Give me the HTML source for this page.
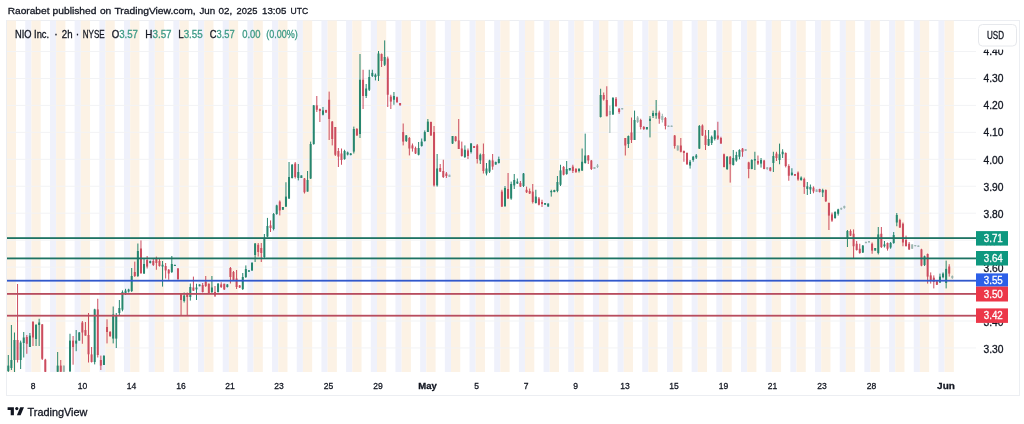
<!DOCTYPE html>
<html><head><meta charset="utf-8"><title>NIO Inc. 2h chart</title><style>
html,body{margin:0;padding:0;background:#fff;width:1024px;height:424px;overflow:hidden}
svg{display:block}
text{font-family:"Liberation Sans",Arial,sans-serif;stroke:#131722;stroke-width:0.3px}
.pl{stroke:#fff!important}
.hdr{font-size:9.9px;fill:#131722}
.lg{font-size:10.4px;fill:#131722}
.lv{fill:#3d9a86;stroke:#3d9a86}
.ax{font-size:10px;fill:#131722}
.pl{font-size:10.8px;fill:#fff}
.tl{font-size:9.9px;fill:#131722}
.b{font-weight:bold}
.tv{font-size:10.8px;fill:#131722}
</style></head><body>
<svg width="1024" height="424" viewBox="0 0 1024 424">
<rect width="1024" height="424" fill="#fff"/>
<text x="7.7" y="13.9" class="hdr" textLength="41.8" lengthAdjust="spacingAndGlyphs">Raorabet</text><text x="52.6" y="13.9" class="hdr" textLength="43.8" lengthAdjust="spacingAndGlyphs">published</text><text x="99.9" y="13.9" class="hdr" textLength="11.4" lengthAdjust="spacingAndGlyphs">on</text><text x="114.4" y="13.9" class="hdr" textLength="81.2" lengthAdjust="spacingAndGlyphs">TradingView.com,</text><text x="199.4" y="13.9" class="hdr" textLength="15.7" lengthAdjust="spacingAndGlyphs">Jun</text><text x="218.6" y="13.9" class="hdr" textLength="13.7" lengthAdjust="spacingAndGlyphs">02,</text><text x="236.6" y="13.9" class="hdr" textLength="20.8" lengthAdjust="spacingAndGlyphs">2025</text><text x="262.0" y="13.9" class="hdr" textLength="24.3" lengthAdjust="spacingAndGlyphs">13:05</text><text x="290.5" y="13.9" class="hdr" textLength="17.6" lengthAdjust="spacingAndGlyphs">UTC</text>
<rect x="6.5" y="20.5" width="1013.0" height="375.0" fill="#fff" stroke="#eceef2" stroke-width="1"/>
<g>
<rect x="7.00" y="20.5" width="9.01" height="351.5" fill="#fcf2e5"/>
<rect x="25.27" y="20.5" width="6.17" height="351.5" fill="#eff1fb"/>
<rect x="31.44" y="20.5" width="9.25" height="351.5" fill="#fcf2e5"/>
<rect x="49.95" y="20.5" width="6.17" height="351.5" fill="#eff1fb"/>
<rect x="56.12" y="20.5" width="9.26" height="351.5" fill="#fcf2e5"/>
<rect x="74.63" y="20.5" width="6.17" height="351.5" fill="#eff1fb"/>
<rect x="80.80" y="20.5" width="9.26" height="351.5" fill="#fcf2e5"/>
<rect x="99.31" y="20.5" width="6.17" height="351.5" fill="#eff1fb"/>
<rect x="105.48" y="20.5" width="9.25" height="351.5" fill="#fcf2e5"/>
<rect x="123.99" y="20.5" width="6.17" height="351.5" fill="#eff1fb"/>
<rect x="130.16" y="20.5" width="9.25" height="351.5" fill="#fcf2e5"/>
<rect x="148.67" y="20.5" width="6.17" height="351.5" fill="#eff1fb"/>
<rect x="154.84" y="20.5" width="9.26" height="351.5" fill="#fcf2e5"/>
<rect x="173.35" y="20.5" width="6.17" height="351.5" fill="#eff1fb"/>
<rect x="179.52" y="20.5" width="9.25" height="351.5" fill="#fcf2e5"/>
<rect x="198.03" y="20.5" width="6.17" height="351.5" fill="#eff1fb"/>
<rect x="204.20" y="20.5" width="9.25" height="351.5" fill="#fcf2e5"/>
<rect x="222.71" y="20.5" width="6.17" height="351.5" fill="#eff1fb"/>
<rect x="228.88" y="20.5" width="9.25" height="351.5" fill="#fcf2e5"/>
<rect x="247.39" y="20.5" width="6.17" height="351.5" fill="#eff1fb"/>
<rect x="253.56" y="20.5" width="9.25" height="351.5" fill="#fcf2e5"/>
<rect x="272.07" y="20.5" width="6.17" height="351.5" fill="#eff1fb"/>
<rect x="278.24" y="20.5" width="9.25" height="351.5" fill="#fcf2e5"/>
<rect x="296.75" y="20.5" width="6.17" height="351.5" fill="#eff1fb"/>
<rect x="302.92" y="20.5" width="9.26" height="351.5" fill="#fcf2e5"/>
<rect x="321.43" y="20.5" width="6.17" height="351.5" fill="#eff1fb"/>
<rect x="327.60" y="20.5" width="9.25" height="351.5" fill="#fcf2e5"/>
<rect x="346.11" y="20.5" width="6.17" height="351.5" fill="#eff1fb"/>
<rect x="352.28" y="20.5" width="9.25" height="351.5" fill="#fcf2e5"/>
<rect x="370.79" y="20.5" width="6.17" height="351.5" fill="#eff1fb"/>
<rect x="376.96" y="20.5" width="9.25" height="351.5" fill="#fcf2e5"/>
<rect x="395.47" y="20.5" width="6.17" height="351.5" fill="#eff1fb"/>
<rect x="401.64" y="20.5" width="9.25" height="351.5" fill="#fcf2e5"/>
<rect x="420.15" y="20.5" width="6.17" height="351.5" fill="#eff1fb"/>
<rect x="426.32" y="20.5" width="9.25" height="351.5" fill="#fcf2e5"/>
<rect x="444.83" y="20.5" width="6.17" height="351.5" fill="#eff1fb"/>
<rect x="451.00" y="20.5" width="9.25" height="351.5" fill="#fcf2e5"/>
<rect x="469.51" y="20.5" width="6.17" height="351.5" fill="#eff1fb"/>
<rect x="475.68" y="20.5" width="9.25" height="351.5" fill="#fcf2e5"/>
<rect x="494.19" y="20.5" width="6.17" height="351.5" fill="#eff1fb"/>
<rect x="500.36" y="20.5" width="9.25" height="351.5" fill="#fcf2e5"/>
<rect x="518.87" y="20.5" width="6.17" height="351.5" fill="#eff1fb"/>
<rect x="525.04" y="20.5" width="9.25" height="351.5" fill="#fcf2e5"/>
<rect x="543.55" y="20.5" width="6.17" height="351.5" fill="#eff1fb"/>
<rect x="549.72" y="20.5" width="9.25" height="351.5" fill="#fcf2e5"/>
<rect x="568.23" y="20.5" width="6.17" height="351.5" fill="#eff1fb"/>
<rect x="574.40" y="20.5" width="9.25" height="351.5" fill="#fcf2e5"/>
<rect x="592.91" y="20.5" width="6.17" height="351.5" fill="#eff1fb"/>
<rect x="599.08" y="20.5" width="9.26" height="351.5" fill="#fcf2e5"/>
<rect x="617.59" y="20.5" width="6.17" height="351.5" fill="#eff1fb"/>
<rect x="623.76" y="20.5" width="9.25" height="351.5" fill="#fcf2e5"/>
<rect x="642.27" y="20.5" width="6.17" height="351.5" fill="#eff1fb"/>
<rect x="648.44" y="20.5" width="9.25" height="351.5" fill="#fcf2e5"/>
<rect x="666.95" y="20.5" width="6.17" height="351.5" fill="#eff1fb"/>
<rect x="673.12" y="20.5" width="9.25" height="351.5" fill="#fcf2e5"/>
<rect x="691.63" y="20.5" width="6.17" height="351.5" fill="#eff1fb"/>
<rect x="697.80" y="20.5" width="9.25" height="351.5" fill="#fcf2e5"/>
<rect x="716.31" y="20.5" width="6.17" height="351.5" fill="#eff1fb"/>
<rect x="722.48" y="20.5" width="9.25" height="351.5" fill="#fcf2e5"/>
<rect x="740.99" y="20.5" width="6.17" height="351.5" fill="#eff1fb"/>
<rect x="747.16" y="20.5" width="9.25" height="351.5" fill="#fcf2e5"/>
<rect x="765.67" y="20.5" width="6.17" height="351.5" fill="#eff1fb"/>
<rect x="771.84" y="20.5" width="9.25" height="351.5" fill="#fcf2e5"/>
<rect x="790.35" y="20.5" width="6.17" height="351.5" fill="#eff1fb"/>
<rect x="796.52" y="20.5" width="9.25" height="351.5" fill="#fcf2e5"/>
<rect x="815.03" y="20.5" width="6.17" height="351.5" fill="#eff1fb"/>
<rect x="821.20" y="20.5" width="9.25" height="351.5" fill="#fcf2e5"/>
<rect x="839.71" y="20.5" width="6.17" height="351.5" fill="#eff1fb"/>
<rect x="845.88" y="20.5" width="9.25" height="351.5" fill="#fcf2e5"/>
<rect x="864.39" y="20.5" width="6.17" height="351.5" fill="#eff1fb"/>
<rect x="870.56" y="20.5" width="9.25" height="351.5" fill="#fcf2e5"/>
<rect x="889.07" y="20.5" width="6.17" height="351.5" fill="#eff1fb"/>
<rect x="895.24" y="20.5" width="9.25" height="351.5" fill="#fcf2e5"/>
<rect x="913.75" y="20.5" width="6.17" height="351.5" fill="#eff1fb"/>
<rect x="919.92" y="20.5" width="9.25" height="351.5" fill="#fcf2e5"/>
<rect x="938.43" y="20.5" width="6.17" height="351.5" fill="#eff1fb"/>
<rect x="944.60" y="20.5" width="9.25" height="351.5" fill="#fcf2e5"/>
<rect x="7" y="51.00" width="969" height="1" fill="#f2f3f5"/>
<rect x="7" y="77.95" width="969" height="1" fill="#f2f3f5"/>
<rect x="7" y="104.90" width="969" height="1" fill="#f2f3f5"/>
<rect x="7" y="131.85" width="969" height="1" fill="#f2f3f5"/>
<rect x="7" y="158.80" width="969" height="1" fill="#f2f3f5"/>
<rect x="7" y="185.75" width="969" height="1" fill="#f2f3f5"/>
<rect x="7" y="212.70" width="969" height="1" fill="#f2f3f5"/>
<rect x="7" y="239.65" width="969" height="1" fill="#f2f3f5"/>
<rect x="7" y="266.60" width="969" height="1" fill="#f2f3f5"/>
<rect x="7" y="293.55" width="969" height="1" fill="#f2f3f5"/>
<rect x="7" y="320.50" width="969" height="1" fill="#f2f3f5"/>
<rect x="7" y="347.45" width="969" height="1" fill="#f2f3f5"/>
<rect x="7.80" y="355.00" width="1.0" height="17.00" fill="#26866f"/>
<rect x="7.30" y="365.60" width="2.0" height="5.40" fill="#26866f"/>
<rect x="10.89" y="325.00" width="1.0" height="45.00" fill="#26866f"/>
<rect x="10.39" y="360.00" width="2.0" height="8.00" fill="#26866f"/>
<rect x="13.97" y="332.50" width="1.0" height="39.50" fill="#26866f"/>
<rect x="13.47" y="340.00" width="2.0" height="20.00" fill="#26866f"/>
<rect x="17.05" y="284.00" width="1.0" height="78.50" fill="#cc4c5e"/>
<rect x="16.55" y="340.00" width="2.0" height="20.00" fill="#cc4c5e"/>
<rect x="20.14" y="340.60" width="1.0" height="28.40" fill="#26866f"/>
<rect x="19.64" y="342.50" width="2.0" height="17.50" fill="#26866f"/>
<rect x="23.23" y="332.00" width="1.0" height="25.50" fill="#26866f"/>
<rect x="22.73" y="337.50" width="2.0" height="5.50" fill="#26866f"/>
<rect x="26.31" y="335.00" width="1.0" height="18.80" fill="#cc4c5e"/>
<rect x="25.81" y="337.00" width="2.0" height="6.80" fill="#cc4c5e"/>
<rect x="29.39" y="333.00" width="1.0" height="14.00" fill="#26866f"/>
<rect x="28.89" y="335.60" width="2.0" height="11.40" fill="#26866f"/>
<rect x="32.48" y="321.00" width="1.0" height="25.00" fill="#cc4c5e"/>
<rect x="31.98" y="322.00" width="2.0" height="15.50" fill="#cc4c5e"/>
<rect x="35.56" y="324.00" width="1.0" height="22.00" fill="#26866f"/>
<rect x="35.06" y="325.00" width="2.0" height="14.00" fill="#26866f"/>
<rect x="38.65" y="318.75" width="1.0" height="27.25" fill="#26866f"/>
<rect x="38.15" y="322.50" width="2.0" height="2.50" fill="#26866f"/>
<rect x="41.73" y="324.00" width="1.0" height="36.00" fill="#cc4c5e"/>
<rect x="41.23" y="324.40" width="2.0" height="34.40" fill="#cc4c5e"/>
<rect x="44.82" y="358.80" width="1.0" height="13.20" fill="#cc4c5e"/>
<rect x="44.32" y="359.70" width="2.0" height="12.10" fill="#cc4c5e"/>
<rect x="57.16" y="352.00" width="1.0" height="19.80" fill="#26866f"/>
<rect x="56.66" y="365.60" width="2.0" height="6.20" fill="#26866f"/>
<rect x="60.25" y="360.00" width="1.0" height="11.80" fill="#cc4c5e"/>
<rect x="59.75" y="365.60" width="2.0" height="6.20" fill="#cc4c5e"/>
<rect x="63.33" y="365.60" width="1.0" height="6.20" fill="#9ab5b0"/>
<rect x="62.83" y="365.60" width="2.0" height="6.20" fill="#9ab5b0"/>
<rect x="69.50" y="333.75" width="1.0" height="38.05" fill="#26866f"/>
<rect x="69.00" y="340.60" width="2.0" height="30.80" fill="#26866f"/>
<rect x="72.58" y="336.00" width="1.0" height="28.70" fill="#cc4c5e"/>
<rect x="72.08" y="340.60" width="2.0" height="6.40" fill="#cc4c5e"/>
<rect x="75.67" y="330.00" width="1.0" height="21.20" fill="#26866f"/>
<rect x="75.17" y="340.60" width="2.0" height="3.00" fill="#26866f"/>
<rect x="78.75" y="332.00" width="1.0" height="8.60" fill="#26866f"/>
<rect x="78.25" y="332.50" width="2.0" height="8.10" fill="#26866f"/>
<rect x="81.84" y="321.00" width="1.0" height="22.75" fill="#cc4c5e"/>
<rect x="81.34" y="322.50" width="2.0" height="10.00" fill="#cc4c5e"/>
<rect x="84.92" y="322.00" width="1.0" height="13.60" fill="#cc4c5e"/>
<rect x="84.42" y="330.00" width="2.0" height="5.60" fill="#cc4c5e"/>
<rect x="88.01" y="313.00" width="1.0" height="49.50" fill="#cc4c5e"/>
<rect x="87.51" y="335.00" width="2.0" height="19.30" fill="#cc4c5e"/>
<rect x="91.09" y="347.00" width="1.0" height="15.50" fill="#cc4c5e"/>
<rect x="90.59" y="354.40" width="2.0" height="7.60" fill="#cc4c5e"/>
<rect x="94.18" y="308.75" width="1.0" height="55.65" fill="#26866f"/>
<rect x="93.68" y="309.40" width="2.0" height="52.60" fill="#26866f"/>
<rect x="97.27" y="298.75" width="1.0" height="58.75" fill="#cc4c5e"/>
<rect x="96.77" y="309.40" width="2.0" height="45.60" fill="#cc4c5e"/>
<rect x="100.35" y="355.60" width="1.0" height="14.40" fill="#cc4c5e"/>
<rect x="99.85" y="360.00" width="2.0" height="5.60" fill="#cc4c5e"/>
<rect x="103.44" y="355.00" width="1.0" height="10.00" fill="#26866f"/>
<rect x="102.94" y="356.00" width="2.0" height="9.00" fill="#26866f"/>
<rect x="106.52" y="319.30" width="1.0" height="24.10" fill="#cc4c5e"/>
<rect x="106.02" y="327.00" width="2.0" height="5.00" fill="#cc4c5e"/>
<rect x="109.60" y="331.00" width="1.0" height="6.00" fill="#cc4c5e"/>
<rect x="109.10" y="332.00" width="2.0" height="4.00" fill="#cc4c5e"/>
<rect x="112.69" y="306.50" width="1.0" height="36.90" fill="#26866f"/>
<rect x="112.19" y="314.50" width="2.0" height="24.10" fill="#26866f"/>
<rect x="115.77" y="313.00" width="1.0" height="35.00" fill="#26866f"/>
<rect x="115.27" y="316.00" width="2.0" height="22.60" fill="#26866f"/>
<rect x="118.86" y="300.00" width="1.0" height="16.00" fill="#26866f"/>
<rect x="118.36" y="308.00" width="2.0" height="5.00" fill="#26866f"/>
<rect x="121.94" y="290.40" width="1.0" height="20.90" fill="#26866f"/>
<rect x="121.44" y="292.00" width="2.0" height="17.70" fill="#26866f"/>
<rect x="125.03" y="288.80" width="1.0" height="6.20" fill="#26866f"/>
<rect x="124.53" y="290.60" width="2.0" height="3.40" fill="#26866f"/>
<rect x="128.12" y="288.75" width="1.0" height="3.75" fill="#26866f"/>
<rect x="127.62" y="289.50" width="2.0" height="2.00" fill="#26866f"/>
<rect x="131.20" y="268.00" width="1.0" height="24.00" fill="#26866f"/>
<rect x="130.70" y="276.00" width="2.0" height="15.00" fill="#26866f"/>
<rect x="134.28" y="261.60" width="1.0" height="15.40" fill="#cc4c5e"/>
<rect x="133.78" y="272.00" width="2.0" height="4.00" fill="#cc4c5e"/>
<rect x="137.37" y="243.50" width="1.0" height="33.50" fill="#26866f"/>
<rect x="136.87" y="251.00" width="2.0" height="25.00" fill="#26866f"/>
<rect x="140.46" y="240.40" width="1.0" height="33.60" fill="#cc4c5e"/>
<rect x="139.96" y="248.50" width="2.0" height="24.50" fill="#cc4c5e"/>
<rect x="143.54" y="258.00" width="1.0" height="16.00" fill="#26866f"/>
<rect x="143.04" y="264.00" width="2.0" height="9.50" fill="#26866f"/>
<rect x="146.62" y="256.00" width="1.0" height="12.50" fill="#cc4c5e"/>
<rect x="146.12" y="260.00" width="2.0" height="6.60" fill="#cc4c5e"/>
<rect x="149.71" y="260.50" width="1.0" height="3.00" fill="#26866f"/>
<rect x="149.21" y="261.00" width="2.0" height="2.00" fill="#26866f"/>
<rect x="152.80" y="259.00" width="1.0" height="7.00" fill="#cc4c5e"/>
<rect x="152.30" y="261.00" width="2.0" height="4.00" fill="#cc4c5e"/>
<rect x="155.88" y="256.60" width="1.0" height="13.15" fill="#cc4c5e"/>
<rect x="155.38" y="258.00" width="2.0" height="5.00" fill="#cc4c5e"/>
<rect x="158.97" y="258.00" width="1.0" height="8.60" fill="#cc4c5e"/>
<rect x="158.47" y="261.00" width="2.0" height="5.00" fill="#cc4c5e"/>
<rect x="162.05" y="261.00" width="1.0" height="25.60" fill="#26866f"/>
<rect x="161.55" y="264.75" width="2.0" height="1.85" fill="#26866f"/>
<rect x="165.14" y="263.00" width="1.0" height="15.50" fill="#cc4c5e"/>
<rect x="164.64" y="266.00" width="2.0" height="4.40" fill="#cc4c5e"/>
<rect x="168.22" y="269.00" width="1.0" height="10.75" fill="#cc4c5e"/>
<rect x="167.72" y="269.75" width="2.0" height="3.75" fill="#cc4c5e"/>
<rect x="171.31" y="256.00" width="1.0" height="17.00" fill="#26866f"/>
<rect x="170.81" y="264.00" width="2.0" height="8.00" fill="#26866f"/>
<rect x="174.39" y="264.50" width="1.0" height="1.50" fill="#26866f"/>
<rect x="173.89" y="265.00" width="2.0" height="1.00" fill="#26866f"/>
<rect x="177.48" y="268.00" width="1.0" height="12.00" fill="#cc4c5e"/>
<rect x="176.98" y="268.50" width="2.0" height="10.50" fill="#cc4c5e"/>
<rect x="180.56" y="293.75" width="1.0" height="22.25" fill="#cc4c5e"/>
<rect x="180.06" y="293.75" width="2.0" height="6.25" fill="#cc4c5e"/>
<rect x="183.65" y="292.50" width="1.0" height="10.00" fill="#26866f"/>
<rect x="183.15" y="295.60" width="2.0" height="5.40" fill="#26866f"/>
<rect x="186.73" y="292.50" width="1.0" height="23.50" fill="#cc4c5e"/>
<rect x="186.23" y="293.00" width="2.0" height="4.00" fill="#cc4c5e"/>
<rect x="189.81" y="283.50" width="1.0" height="17.10" fill="#26866f"/>
<rect x="189.31" y="287.00" width="2.0" height="10.00" fill="#26866f"/>
<rect x="192.90" y="276.60" width="1.0" height="14.40" fill="#cc4c5e"/>
<rect x="192.40" y="287.50" width="2.0" height="3.10" fill="#cc4c5e"/>
<rect x="195.99" y="283.75" width="1.0" height="16.25" fill="#26866f"/>
<rect x="195.49" y="287.50" width="2.0" height="1.90" fill="#26866f"/>
<rect x="199.07" y="284.40" width="1.0" height="1.85" fill="#26866f"/>
<rect x="198.57" y="284.40" width="2.0" height="1.85" fill="#26866f"/>
<rect x="202.16" y="283.00" width="1.0" height="9.50" fill="#cc4c5e"/>
<rect x="201.66" y="285.00" width="2.0" height="7.00" fill="#cc4c5e"/>
<rect x="205.24" y="276.00" width="1.0" height="11.00" fill="#cc4c5e"/>
<rect x="204.74" y="281.60" width="2.0" height="4.40" fill="#cc4c5e"/>
<rect x="208.33" y="283.50" width="1.0" height="10.25" fill="#cc4c5e"/>
<rect x="207.83" y="283.75" width="2.0" height="9.25" fill="#cc4c5e"/>
<rect x="211.41" y="276.00" width="1.0" height="17.00" fill="#26866f"/>
<rect x="210.91" y="287.50" width="2.0" height="4.50" fill="#26866f"/>
<rect x="214.50" y="286.00" width="1.0" height="11.00" fill="#cc4c5e"/>
<rect x="214.00" y="292.00" width="2.0" height="3.60" fill="#cc4c5e"/>
<rect x="217.58" y="283.00" width="1.0" height="9.50" fill="#26866f"/>
<rect x="217.08" y="283.75" width="2.0" height="8.25" fill="#26866f"/>
<rect x="220.67" y="282.25" width="1.0" height="5.75" fill="#cc4c5e"/>
<rect x="220.17" y="284.40" width="2.0" height="2.60" fill="#cc4c5e"/>
<rect x="223.75" y="283.75" width="1.0" height="6.25" fill="#cc4c5e"/>
<rect x="223.25" y="283.75" width="2.0" height="5.65" fill="#cc4c5e"/>
<rect x="226.84" y="284.00" width="1.0" height="3.50" fill="#26866f"/>
<rect x="226.34" y="284.50" width="2.0" height="2.50" fill="#26866f"/>
<rect x="229.92" y="267.00" width="1.0" height="16.50" fill="#cc4c5e"/>
<rect x="229.42" y="268.00" width="2.0" height="9.00" fill="#cc4c5e"/>
<rect x="233.00" y="271.00" width="1.0" height="10.00" fill="#cc4c5e"/>
<rect x="232.50" y="272.00" width="2.0" height="8.00" fill="#cc4c5e"/>
<rect x="236.09" y="270.00" width="1.0" height="19.00" fill="#cc4c5e"/>
<rect x="235.59" y="278.50" width="2.0" height="8.50" fill="#cc4c5e"/>
<rect x="239.18" y="285.00" width="1.0" height="3.00" fill="#cc4c5e"/>
<rect x="238.68" y="285.50" width="2.0" height="2.00" fill="#cc4c5e"/>
<rect x="242.26" y="273.00" width="1.0" height="17.00" fill="#26866f"/>
<rect x="241.76" y="277.00" width="2.0" height="12.00" fill="#26866f"/>
<rect x="245.34" y="265.40" width="1.0" height="12.60" fill="#26866f"/>
<rect x="244.84" y="269.00" width="2.0" height="8.00" fill="#26866f"/>
<rect x="248.43" y="270.00" width="1.0" height="2.00" fill="#26866f"/>
<rect x="247.93" y="270.40" width="2.0" height="1.20" fill="#26866f"/>
<rect x="251.52" y="262.00" width="1.0" height="9.00" fill="#26866f"/>
<rect x="251.02" y="263.00" width="2.0" height="7.40" fill="#26866f"/>
<rect x="254.60" y="243.00" width="1.0" height="19.00" fill="#26866f"/>
<rect x="254.10" y="243.50" width="2.0" height="11.50" fill="#26866f"/>
<rect x="257.69" y="243.00" width="1.0" height="13.60" fill="#cc4c5e"/>
<rect x="257.19" y="244.75" width="2.0" height="7.25" fill="#cc4c5e"/>
<rect x="260.77" y="243.00" width="1.0" height="19.00" fill="#cc4c5e"/>
<rect x="260.27" y="248.00" width="2.0" height="5.00" fill="#cc4c5e"/>
<rect x="263.86" y="234.00" width="1.0" height="24.50" fill="#26866f"/>
<rect x="263.36" y="238.50" width="2.0" height="18.50" fill="#26866f"/>
<rect x="266.94" y="217.90" width="1.0" height="19.35" fill="#26866f"/>
<rect x="266.44" y="226.00" width="2.0" height="10.60" fill="#26866f"/>
<rect x="270.03" y="220.40" width="1.0" height="11.60" fill="#cc4c5e"/>
<rect x="269.53" y="225.40" width="2.0" height="2.60" fill="#cc4c5e"/>
<rect x="273.11" y="213.00" width="1.0" height="17.40" fill="#26866f"/>
<rect x="272.61" y="214.00" width="2.0" height="15.00" fill="#26866f"/>
<rect x="276.19" y="204.75" width="1.0" height="10.00" fill="#26866f"/>
<rect x="275.69" y="205.40" width="2.0" height="8.60" fill="#26866f"/>
<rect x="279.28" y="200.40" width="1.0" height="15.00" fill="#cc4c5e"/>
<rect x="278.78" y="201.60" width="2.0" height="8.80" fill="#cc4c5e"/>
<rect x="282.37" y="207.00" width="1.0" height="2.75" fill="#26866f"/>
<rect x="281.87" y="207.00" width="2.0" height="2.75" fill="#26866f"/>
<rect x="285.45" y="182.25" width="1.0" height="24.75" fill="#26866f"/>
<rect x="284.95" y="196.60" width="2.0" height="10.00" fill="#26866f"/>
<rect x="288.54" y="162.00" width="1.0" height="37.00" fill="#26866f"/>
<rect x="288.04" y="177.00" width="2.0" height="21.50" fill="#26866f"/>
<rect x="291.62" y="164.00" width="1.0" height="14.50" fill="#26866f"/>
<rect x="291.12" y="164.75" width="2.0" height="13.25" fill="#26866f"/>
<rect x="294.70" y="162.00" width="1.0" height="16.50" fill="#cc4c5e"/>
<rect x="294.20" y="163.50" width="2.0" height="13.50" fill="#cc4c5e"/>
<rect x="297.79" y="164.00" width="1.0" height="16.40" fill="#26866f"/>
<rect x="297.29" y="172.00" width="2.0" height="6.00" fill="#26866f"/>
<rect x="300.88" y="175.40" width="1.0" height="2.60" fill="#26866f"/>
<rect x="300.38" y="175.40" width="2.0" height="2.60" fill="#26866f"/>
<rect x="303.96" y="178.00" width="1.0" height="15.50" fill="#cc4c5e"/>
<rect x="303.46" y="178.50" width="2.0" height="13.75" fill="#cc4c5e"/>
<rect x="307.05" y="171.00" width="1.0" height="20.60" fill="#26866f"/>
<rect x="306.55" y="180.00" width="2.0" height="11.60" fill="#26866f"/>
<rect x="310.13" y="141.60" width="1.0" height="37.40" fill="#26866f"/>
<rect x="309.63" y="144.00" width="2.0" height="34.50" fill="#26866f"/>
<rect x="313.22" y="105.00" width="1.0" height="39.75" fill="#26866f"/>
<rect x="312.72" y="105.40" width="2.0" height="38.60" fill="#26866f"/>
<rect x="316.30" y="96.00" width="1.0" height="16.00" fill="#cc4c5e"/>
<rect x="315.80" y="105.40" width="2.0" height="4.35" fill="#cc4c5e"/>
<rect x="319.38" y="108.50" width="1.0" height="13.50" fill="#cc4c5e"/>
<rect x="318.88" y="109.00" width="2.0" height="2.00" fill="#cc4c5e"/>
<rect x="322.47" y="107.00" width="1.0" height="8.40" fill="#26866f"/>
<rect x="321.97" y="110.40" width="2.0" height="4.35" fill="#26866f"/>
<rect x="325.56" y="109.75" width="1.0" height="3.25" fill="#cc4c5e"/>
<rect x="325.06" y="110.00" width="2.0" height="2.50" fill="#cc4c5e"/>
<rect x="328.64" y="91.60" width="1.0" height="48.40" fill="#cc4c5e"/>
<rect x="328.14" y="99.75" width="2.0" height="19.25" fill="#cc4c5e"/>
<rect x="331.73" y="121.00" width="1.0" height="24.40" fill="#cc4c5e"/>
<rect x="331.23" y="121.60" width="2.0" height="17.40" fill="#cc4c5e"/>
<rect x="334.81" y="127.00" width="1.0" height="29.00" fill="#cc4c5e"/>
<rect x="334.31" y="127.00" width="2.0" height="27.75" fill="#cc4c5e"/>
<rect x="337.89" y="148.00" width="1.0" height="19.00" fill="#cc4c5e"/>
<rect x="337.39" y="151.00" width="2.0" height="5.60" fill="#cc4c5e"/>
<rect x="340.98" y="148.50" width="1.0" height="16.25" fill="#cc4c5e"/>
<rect x="340.48" y="153.50" width="2.0" height="6.50" fill="#cc4c5e"/>
<rect x="344.06" y="149.75" width="1.0" height="10.00" fill="#26866f"/>
<rect x="343.56" y="151.00" width="2.0" height="8.00" fill="#26866f"/>
<rect x="347.15" y="151.60" width="1.0" height="3.80" fill="#26866f"/>
<rect x="346.65" y="152.50" width="2.0" height="2.00" fill="#26866f"/>
<rect x="350.24" y="153.00" width="1.0" height="2.40" fill="#26866f"/>
<rect x="349.74" y="153.50" width="2.0" height="1.50" fill="#26866f"/>
<rect x="353.32" y="126.60" width="1.0" height="26.90" fill="#26866f"/>
<rect x="352.82" y="129.00" width="2.0" height="22.60" fill="#26866f"/>
<rect x="356.41" y="128.00" width="1.0" height="8.00" fill="#cc4c5e"/>
<rect x="355.91" y="129.00" width="2.0" height="6.40" fill="#cc4c5e"/>
<rect x="359.49" y="54.00" width="1.0" height="84.00" fill="#26866f"/>
<rect x="358.99" y="79.75" width="2.0" height="54.25" fill="#26866f"/>
<rect x="362.57" y="69.75" width="1.0" height="39.25" fill="#cc4c5e"/>
<rect x="362.07" y="79.75" width="2.0" height="16.25" fill="#cc4c5e"/>
<rect x="365.66" y="84.00" width="1.0" height="14.00" fill="#26866f"/>
<rect x="365.16" y="88.50" width="2.0" height="7.50" fill="#26866f"/>
<rect x="368.75" y="69.75" width="1.0" height="21.25" fill="#26866f"/>
<rect x="368.25" y="77.00" width="2.0" height="12.75" fill="#26866f"/>
<rect x="371.83" y="69.75" width="1.0" height="7.25" fill="#26866f"/>
<rect x="371.33" y="72.90" width="2.0" height="3.10" fill="#26866f"/>
<rect x="374.92" y="73.50" width="1.0" height="6.90" fill="#26866f"/>
<rect x="374.42" y="74.75" width="2.0" height="2.25" fill="#26866f"/>
<rect x="378.00" y="51.00" width="1.0" height="30.00" fill="#26866f"/>
<rect x="377.50" y="53.50" width="2.0" height="22.50" fill="#26866f"/>
<rect x="381.08" y="53.50" width="1.0" height="13.50" fill="#cc4c5e"/>
<rect x="380.58" y="54.00" width="2.0" height="7.00" fill="#cc4c5e"/>
<rect x="384.17" y="40.40" width="1.0" height="25.60" fill="#26866f"/>
<rect x="383.67" y="57.00" width="2.0" height="7.75" fill="#26866f"/>
<rect x="387.25" y="56.60" width="1.0" height="50.40" fill="#cc4c5e"/>
<rect x="386.75" y="58.50" width="2.0" height="36.25" fill="#cc4c5e"/>
<rect x="390.34" y="94.75" width="1.0" height="14.25" fill="#cc4c5e"/>
<rect x="389.84" y="96.60" width="2.0" height="5.00" fill="#cc4c5e"/>
<rect x="393.43" y="92.00" width="1.0" height="12.75" fill="#26866f"/>
<rect x="392.93" y="96.00" width="2.0" height="3.75" fill="#26866f"/>
<rect x="396.51" y="96.60" width="1.0" height="6.40" fill="#cc4c5e"/>
<rect x="396.01" y="97.25" width="2.0" height="4.75" fill="#cc4c5e"/>
<rect x="399.60" y="103.00" width="1.0" height="2.40" fill="#cc4c5e"/>
<rect x="399.10" y="103.00" width="2.0" height="2.40" fill="#cc4c5e"/>
<rect x="402.68" y="123.50" width="1.0" height="21.90" fill="#cc4c5e"/>
<rect x="402.18" y="132.00" width="2.0" height="9.60" fill="#cc4c5e"/>
<rect x="405.76" y="135.00" width="1.0" height="7.00" fill="#26866f"/>
<rect x="405.26" y="135.40" width="2.0" height="5.60" fill="#26866f"/>
<rect x="408.85" y="137.00" width="1.0" height="18.40" fill="#cc4c5e"/>
<rect x="408.35" y="138.00" width="2.0" height="10.50" fill="#cc4c5e"/>
<rect x="411.94" y="143.50" width="1.0" height="8.10" fill="#cc4c5e"/>
<rect x="411.44" y="145.40" width="2.0" height="3.10" fill="#cc4c5e"/>
<rect x="415.02" y="146.60" width="1.0" height="7.40" fill="#cc4c5e"/>
<rect x="414.52" y="148.00" width="2.0" height="5.50" fill="#cc4c5e"/>
<rect x="418.11" y="142.00" width="1.0" height="13.40" fill="#26866f"/>
<rect x="417.61" y="148.00" width="2.0" height="6.75" fill="#26866f"/>
<rect x="421.19" y="138.50" width="1.0" height="8.10" fill="#26866f"/>
<rect x="420.69" y="141.60" width="2.0" height="4.40" fill="#26866f"/>
<rect x="424.28" y="130.40" width="1.0" height="11.20" fill="#26866f"/>
<rect x="423.78" y="132.00" width="2.0" height="9.00" fill="#26866f"/>
<rect x="427.36" y="119.00" width="1.0" height="13.00" fill="#26866f"/>
<rect x="426.86" y="121.60" width="2.0" height="10.40" fill="#26866f"/>
<rect x="430.44" y="121.60" width="1.0" height="14.40" fill="#cc4c5e"/>
<rect x="429.94" y="122.00" width="2.0" height="13.40" fill="#cc4c5e"/>
<rect x="433.53" y="126.00" width="1.0" height="60.60" fill="#cc4c5e"/>
<rect x="433.03" y="132.00" width="2.0" height="53.40" fill="#cc4c5e"/>
<rect x="436.62" y="154.00" width="1.0" height="32.60" fill="#26866f"/>
<rect x="436.12" y="168.50" width="2.0" height="16.90" fill="#26866f"/>
<rect x="439.70" y="164.00" width="1.0" height="8.00" fill="#cc4c5e"/>
<rect x="439.20" y="168.00" width="2.0" height="3.60" fill="#cc4c5e"/>
<rect x="442.79" y="159.75" width="1.0" height="18.25" fill="#cc4c5e"/>
<rect x="442.29" y="171.00" width="2.0" height="6.00" fill="#cc4c5e"/>
<rect x="445.87" y="172.00" width="1.0" height="6.00" fill="#cc4c5e"/>
<rect x="445.37" y="173.50" width="2.0" height="2.50" fill="#cc4c5e"/>
<rect x="448.95" y="174.75" width="1.0" height="2.25" fill="#9ab5b0"/>
<rect x="448.45" y="174.75" width="2.0" height="2.25" fill="#9ab5b0"/>
<rect x="452.04" y="136.00" width="1.0" height="8.00" fill="#26866f"/>
<rect x="451.54" y="136.00" width="2.0" height="7.50" fill="#26866f"/>
<rect x="455.12" y="136.00" width="1.0" height="5.60" fill="#cc4c5e"/>
<rect x="454.62" y="136.50" width="2.0" height="4.50" fill="#cc4c5e"/>
<rect x="458.21" y="119.00" width="1.0" height="30.00" fill="#cc4c5e"/>
<rect x="457.71" y="140.40" width="2.0" height="8.60" fill="#cc4c5e"/>
<rect x="461.30" y="141.60" width="1.0" height="15.00" fill="#cc4c5e"/>
<rect x="460.80" y="148.50" width="2.0" height="7.50" fill="#cc4c5e"/>
<rect x="464.38" y="145.40" width="1.0" height="12.60" fill="#26866f"/>
<rect x="463.88" y="149.75" width="2.0" height="7.25" fill="#26866f"/>
<rect x="467.47" y="148.50" width="1.0" height="10.50" fill="#cc4c5e"/>
<rect x="466.97" y="150.40" width="2.0" height="5.60" fill="#cc4c5e"/>
<rect x="470.55" y="143.00" width="1.0" height="10.50" fill="#26866f"/>
<rect x="470.05" y="143.50" width="2.0" height="8.50" fill="#26866f"/>
<rect x="473.63" y="146.00" width="1.0" height="2.00" fill="#cc4c5e"/>
<rect x="473.13" y="146.00" width="2.0" height="2.00" fill="#cc4c5e"/>
<rect x="476.72" y="144.00" width="1.0" height="19.50" fill="#cc4c5e"/>
<rect x="476.22" y="145.40" width="2.0" height="13.60" fill="#cc4c5e"/>
<rect x="479.81" y="153.50" width="1.0" height="10.50" fill="#26866f"/>
<rect x="479.31" y="154.75" width="2.0" height="5.65" fill="#26866f"/>
<rect x="482.89" y="143.50" width="1.0" height="30.00" fill="#cc4c5e"/>
<rect x="482.39" y="154.00" width="2.0" height="17.00" fill="#cc4c5e"/>
<rect x="485.98" y="163.00" width="1.0" height="12.40" fill="#26866f"/>
<rect x="485.48" y="168.50" width="2.0" height="5.00" fill="#26866f"/>
<rect x="489.06" y="159.75" width="1.0" height="13.25" fill="#26866f"/>
<rect x="488.56" y="160.40" width="2.0" height="11.20" fill="#26866f"/>
<rect x="492.14" y="154.00" width="1.0" height="15.75" fill="#cc4c5e"/>
<rect x="491.64" y="160.40" width="2.0" height="6.20" fill="#cc4c5e"/>
<rect x="495.23" y="161.60" width="1.0" height="3.15" fill="#26866f"/>
<rect x="494.73" y="162.00" width="2.0" height="2.50" fill="#26866f"/>
<rect x="498.31" y="156.60" width="1.0" height="6.90" fill="#26866f"/>
<rect x="497.81" y="159.00" width="2.0" height="4.00" fill="#26866f"/>
<rect x="501.40" y="189.75" width="1.0" height="17.25" fill="#cc4c5e"/>
<rect x="500.90" y="191.60" width="2.0" height="15.00" fill="#cc4c5e"/>
<rect x="504.49" y="186.00" width="1.0" height="21.00" fill="#26866f"/>
<rect x="503.99" y="188.00" width="2.0" height="18.00" fill="#26866f"/>
<rect x="507.57" y="173.00" width="1.0" height="26.00" fill="#cc4c5e"/>
<rect x="507.07" y="189.00" width="2.0" height="9.50" fill="#cc4c5e"/>
<rect x="510.66" y="181.60" width="1.0" height="18.15" fill="#26866f"/>
<rect x="510.16" y="184.00" width="2.0" height="14.50" fill="#26866f"/>
<rect x="513.74" y="174.00" width="1.0" height="15.00" fill="#26866f"/>
<rect x="513.24" y="180.00" width="2.0" height="5.40" fill="#26866f"/>
<rect x="516.82" y="178.50" width="1.0" height="5.50" fill="#26866f"/>
<rect x="516.32" y="181.60" width="2.0" height="1.90" fill="#26866f"/>
<rect x="519.91" y="181.00" width="1.0" height="6.00" fill="#cc4c5e"/>
<rect x="519.41" y="183.00" width="2.0" height="3.60" fill="#cc4c5e"/>
<rect x="523.00" y="173.00" width="1.0" height="14.00" fill="#26866f"/>
<rect x="522.50" y="173.50" width="2.0" height="12.50" fill="#26866f"/>
<rect x="526.08" y="186.60" width="1.0" height="6.40" fill="#cc4c5e"/>
<rect x="525.58" y="189.75" width="2.0" height="2.50" fill="#cc4c5e"/>
<rect x="529.16" y="188.50" width="1.0" height="5.50" fill="#cc4c5e"/>
<rect x="528.66" y="191.00" width="2.0" height="2.50" fill="#cc4c5e"/>
<rect x="532.25" y="184.00" width="1.0" height="19.50" fill="#cc4c5e"/>
<rect x="531.75" y="191.60" width="2.0" height="10.40" fill="#cc4c5e"/>
<rect x="535.33" y="189.75" width="1.0" height="13.75" fill="#26866f"/>
<rect x="534.83" y="196.60" width="2.0" height="6.40" fill="#26866f"/>
<rect x="538.42" y="197.00" width="1.0" height="8.40" fill="#cc4c5e"/>
<rect x="537.92" y="198.50" width="2.0" height="6.25" fill="#cc4c5e"/>
<rect x="541.50" y="199.75" width="1.0" height="7.25" fill="#cc4c5e"/>
<rect x="541.00" y="202.00" width="2.0" height="2.00" fill="#cc4c5e"/>
<rect x="544.59" y="203.00" width="1.0" height="1.75" fill="#26866f"/>
<rect x="544.09" y="203.00" width="2.0" height="1.75" fill="#26866f"/>
<rect x="547.67" y="203.50" width="1.0" height="3.10" fill="#26866f"/>
<rect x="547.17" y="203.50" width="2.0" height="3.10" fill="#26866f"/>
<rect x="550.76" y="189.75" width="1.0" height="6.85" fill="#26866f"/>
<rect x="550.26" y="191.00" width="2.0" height="1.25" fill="#26866f"/>
<rect x="553.84" y="189.75" width="1.0" height="2.50" fill="#26866f"/>
<rect x="553.34" y="190.00" width="2.0" height="2.00" fill="#26866f"/>
<rect x="556.93" y="176.00" width="1.0" height="16.25" fill="#26866f"/>
<rect x="556.43" y="182.00" width="2.0" height="9.00" fill="#26866f"/>
<rect x="560.01" y="164.75" width="1.0" height="21.25" fill="#26866f"/>
<rect x="559.51" y="170.40" width="2.0" height="14.35" fill="#26866f"/>
<rect x="563.10" y="166.00" width="1.0" height="9.40" fill="#cc4c5e"/>
<rect x="562.60" y="167.00" width="2.0" height="7.75" fill="#cc4c5e"/>
<rect x="566.18" y="161.00" width="1.0" height="13.75" fill="#26866f"/>
<rect x="565.68" y="169.00" width="2.0" height="5.00" fill="#26866f"/>
<rect x="569.27" y="168.00" width="1.0" height="2.40" fill="#26866f"/>
<rect x="568.77" y="168.00" width="2.0" height="2.40" fill="#26866f"/>
<rect x="572.35" y="164.75" width="1.0" height="8.25" fill="#cc4c5e"/>
<rect x="571.85" y="166.60" width="2.0" height="4.40" fill="#cc4c5e"/>
<rect x="575.44" y="168.00" width="1.0" height="5.00" fill="#cc4c5e"/>
<rect x="574.94" y="169.00" width="2.0" height="3.00" fill="#cc4c5e"/>
<rect x="578.52" y="168.00" width="1.0" height="4.50" fill="#26866f"/>
<rect x="578.02" y="169.00" width="2.0" height="2.00" fill="#26866f"/>
<rect x="581.61" y="148.50" width="1.0" height="22.50" fill="#26866f"/>
<rect x="581.11" y="161.75" width="2.0" height="8.75" fill="#26866f"/>
<rect x="584.69" y="133.60" width="1.0" height="30.00" fill="#26866f"/>
<rect x="584.19" y="155.50" width="2.0" height="7.50" fill="#26866f"/>
<rect x="587.78" y="155.00" width="1.0" height="9.00" fill="#cc4c5e"/>
<rect x="587.28" y="155.50" width="2.0" height="5.00" fill="#cc4c5e"/>
<rect x="590.86" y="160.00" width="1.0" height="10.00" fill="#cc4c5e"/>
<rect x="590.36" y="160.50" width="2.0" height="8.50" fill="#cc4c5e"/>
<rect x="593.95" y="167.00" width="1.0" height="2.00" fill="#9ab5b0"/>
<rect x="593.45" y="167.00" width="2.0" height="2.00" fill="#9ab5b0"/>
<rect x="597.03" y="164.00" width="1.0" height="4.00" fill="#9ab5b0"/>
<rect x="596.53" y="165.50" width="2.0" height="1.50" fill="#9ab5b0"/>
<rect x="600.12" y="88.75" width="1.0" height="28.75" fill="#26866f"/>
<rect x="599.62" y="95.00" width="2.0" height="22.00" fill="#26866f"/>
<rect x="603.20" y="92.50" width="1.0" height="8.10" fill="#cc4c5e"/>
<rect x="602.70" y="95.00" width="2.0" height="4.40" fill="#cc4c5e"/>
<rect x="606.29" y="86.25" width="1.0" height="30.00" fill="#cc4c5e"/>
<rect x="605.79" y="100.00" width="2.0" height="16.25" fill="#cc4c5e"/>
<rect x="609.38" y="105.60" width="1.0" height="27.40" fill="#9ab5b0"/>
<rect x="608.88" y="111.00" width="2.0" height="4.00" fill="#9ab5b0"/>
<rect x="612.46" y="97.00" width="1.0" height="18.00" fill="#26866f"/>
<rect x="611.96" y="98.00" width="2.0" height="16.40" fill="#26866f"/>
<rect x="615.54" y="97.00" width="1.0" height="10.00" fill="#cc4c5e"/>
<rect x="615.04" y="98.75" width="2.0" height="7.25" fill="#cc4c5e"/>
<rect x="618.63" y="108.00" width="1.0" height="5.75" fill="#cc4c5e"/>
<rect x="618.13" y="108.75" width="2.0" height="3.25" fill="#cc4c5e"/>
<rect x="621.71" y="108.00" width="1.0" height="1.40" fill="#9ab5b0"/>
<rect x="621.21" y="108.00" width="2.0" height="1.40" fill="#9ab5b0"/>
<rect x="624.80" y="138.00" width="1.0" height="17.50" fill="#cc4c5e"/>
<rect x="624.30" y="138.00" width="2.0" height="7.50" fill="#cc4c5e"/>
<rect x="627.88" y="135.50" width="1.0" height="12.50" fill="#26866f"/>
<rect x="627.38" y="136.00" width="2.0" height="8.00" fill="#26866f"/>
<rect x="630.97" y="117.50" width="1.0" height="25.50" fill="#cc4c5e"/>
<rect x="630.47" y="132.40" width="2.0" height="7.60" fill="#cc4c5e"/>
<rect x="634.05" y="110.60" width="1.0" height="29.40" fill="#26866f"/>
<rect x="633.55" y="120.00" width="2.0" height="20.00" fill="#26866f"/>
<rect x="637.14" y="116.00" width="1.0" height="7.00" fill="#9ab5b0"/>
<rect x="636.64" y="117.50" width="2.0" height="4.50" fill="#9ab5b0"/>
<rect x="640.22" y="118.75" width="1.0" height="10.65" fill="#cc4c5e"/>
<rect x="639.72" y="120.00" width="2.0" height="7.00" fill="#cc4c5e"/>
<rect x="643.31" y="126.00" width="1.0" height="4.00" fill="#cc4c5e"/>
<rect x="642.81" y="127.00" width="2.0" height="2.00" fill="#cc4c5e"/>
<rect x="646.39" y="127.00" width="1.0" height="2.40" fill="#26866f"/>
<rect x="645.89" y="127.00" width="2.0" height="2.40" fill="#26866f"/>
<rect x="649.48" y="116.00" width="1.0" height="21.40" fill="#26866f"/>
<rect x="648.98" y="118.75" width="2.0" height="2.25" fill="#26866f"/>
<rect x="652.56" y="110.60" width="1.0" height="7.40" fill="#26866f"/>
<rect x="652.06" y="113.00" width="2.0" height="3.00" fill="#26866f"/>
<rect x="655.65" y="100.00" width="1.0" height="18.75" fill="#26866f"/>
<rect x="655.15" y="113.00" width="2.0" height="2.60" fill="#26866f"/>
<rect x="658.73" y="110.60" width="1.0" height="13.15" fill="#cc4c5e"/>
<rect x="658.23" y="112.50" width="2.0" height="6.25" fill="#cc4c5e"/>
<rect x="661.82" y="113.75" width="1.0" height="8.75" fill="#9ab5b0"/>
<rect x="661.32" y="116.00" width="2.0" height="4.00" fill="#9ab5b0"/>
<rect x="664.90" y="117.00" width="1.0" height="12.40" fill="#cc4c5e"/>
<rect x="664.40" y="118.00" width="2.0" height="8.00" fill="#cc4c5e"/>
<rect x="667.99" y="125.60" width="1.0" height="1.40" fill="#9ab5b0"/>
<rect x="667.49" y="125.60" width="2.0" height="1.40" fill="#9ab5b0"/>
<rect x="671.07" y="125.60" width="1.0" height="1.40" fill="#9ab5b0"/>
<rect x="670.57" y="125.60" width="2.0" height="1.40" fill="#9ab5b0"/>
<rect x="674.16" y="135.00" width="1.0" height="13.60" fill="#cc4c5e"/>
<rect x="673.66" y="135.50" width="2.0" height="10.50" fill="#cc4c5e"/>
<rect x="677.24" y="145.50" width="1.0" height="5.00" fill="#9ab5b0"/>
<rect x="676.74" y="145.50" width="2.0" height="5.00" fill="#9ab5b0"/>
<rect x="680.33" y="138.00" width="1.0" height="14.40" fill="#cc4c5e"/>
<rect x="679.83" y="145.50" width="2.0" height="6.25" fill="#cc4c5e"/>
<rect x="683.41" y="150.50" width="1.0" height="11.25" fill="#cc4c5e"/>
<rect x="682.91" y="151.00" width="2.0" height="2.00" fill="#cc4c5e"/>
<rect x="686.50" y="152.40" width="1.0" height="12.50" fill="#cc4c5e"/>
<rect x="686.00" y="153.00" width="2.0" height="11.25" fill="#cc4c5e"/>
<rect x="689.58" y="160.00" width="1.0" height="8.60" fill="#26866f"/>
<rect x="689.08" y="161.75" width="2.0" height="3.75" fill="#26866f"/>
<rect x="692.67" y="156.00" width="1.0" height="5.75" fill="#26866f"/>
<rect x="692.17" y="156.75" width="2.0" height="3.25" fill="#26866f"/>
<rect x="695.75" y="154.00" width="1.0" height="5.00" fill="#26866f"/>
<rect x="695.25" y="155.50" width="2.0" height="2.00" fill="#26866f"/>
<rect x="698.84" y="125.00" width="1.0" height="24.00" fill="#26866f"/>
<rect x="698.34" y="126.00" width="2.0" height="22.60" fill="#26866f"/>
<rect x="701.92" y="124.40" width="1.0" height="11.60" fill="#cc4c5e"/>
<rect x="701.42" y="125.50" width="2.0" height="10.00" fill="#cc4c5e"/>
<rect x="705.01" y="130.00" width="1.0" height="20.00" fill="#cc4c5e"/>
<rect x="704.51" y="135.50" width="2.0" height="9.50" fill="#cc4c5e"/>
<rect x="708.09" y="130.00" width="1.0" height="16.00" fill="#26866f"/>
<rect x="707.59" y="139.00" width="2.0" height="6.50" fill="#26866f"/>
<rect x="711.18" y="135.50" width="1.0" height="9.50" fill="#26866f"/>
<rect x="710.68" y="136.75" width="2.0" height="6.25" fill="#26866f"/>
<rect x="714.26" y="130.00" width="1.0" height="10.50" fill="#26866f"/>
<rect x="713.76" y="130.50" width="2.0" height="8.50" fill="#26866f"/>
<rect x="717.35" y="121.75" width="1.0" height="18.25" fill="#cc4c5e"/>
<rect x="716.85" y="135.50" width="2.0" height="3.10" fill="#cc4c5e"/>
<rect x="720.43" y="136.75" width="1.0" height="6.85" fill="#cc4c5e"/>
<rect x="719.93" y="138.00" width="2.0" height="5.60" fill="#cc4c5e"/>
<rect x="723.52" y="153.60" width="1.0" height="13.80" fill="#cc4c5e"/>
<rect x="723.02" y="154.25" width="2.0" height="12.75" fill="#cc4c5e"/>
<rect x="726.60" y="156.00" width="1.0" height="14.00" fill="#26866f"/>
<rect x="726.10" y="156.75" width="2.0" height="12.25" fill="#26866f"/>
<rect x="729.69" y="156.00" width="1.0" height="26.60" fill="#cc4c5e"/>
<rect x="729.19" y="156.75" width="2.0" height="7.50" fill="#cc4c5e"/>
<rect x="732.77" y="150.00" width="1.0" height="15.50" fill="#26866f"/>
<rect x="732.27" y="158.00" width="2.0" height="7.00" fill="#26866f"/>
<rect x="735.86" y="151.75" width="1.0" height="10.00" fill="#26866f"/>
<rect x="735.36" y="155.00" width="2.0" height="5.50" fill="#26866f"/>
<rect x="738.94" y="149.25" width="1.0" height="10.00" fill="#26866f"/>
<rect x="738.44" y="150.00" width="2.0" height="6.75" fill="#26866f"/>
<rect x="742.03" y="148.00" width="1.0" height="8.75" fill="#cc4c5e"/>
<rect x="741.53" y="148.60" width="2.0" height="3.15" fill="#cc4c5e"/>
<rect x="745.11" y="149.00" width="1.0" height="2.00" fill="#9ab5b0"/>
<rect x="744.61" y="149.00" width="2.0" height="2.00" fill="#9ab5b0"/>
<rect x="748.20" y="161.75" width="1.0" height="16.50" fill="#cc4c5e"/>
<rect x="747.70" y="162.40" width="2.0" height="6.60" fill="#cc4c5e"/>
<rect x="751.28" y="159.25" width="1.0" height="10.00" fill="#26866f"/>
<rect x="750.78" y="160.00" width="2.0" height="9.00" fill="#26866f"/>
<rect x="754.37" y="151.75" width="1.0" height="18.25" fill="#26866f"/>
<rect x="753.87" y="159.00" width="2.0" height="1.50" fill="#26866f"/>
<rect x="757.45" y="155.50" width="1.0" height="9.50" fill="#cc4c5e"/>
<rect x="756.95" y="161.00" width="2.0" height="2.60" fill="#cc4c5e"/>
<rect x="760.54" y="158.00" width="1.0" height="9.60" fill="#26866f"/>
<rect x="760.04" y="160.00" width="2.0" height="3.60" fill="#26866f"/>
<rect x="763.62" y="159.90" width="1.0" height="9.35" fill="#cc4c5e"/>
<rect x="763.12" y="160.50" width="2.0" height="8.50" fill="#cc4c5e"/>
<rect x="766.71" y="167.00" width="1.0" height="3.00" fill="#9ab5b0"/>
<rect x="766.21" y="167.40" width="2.0" height="1.60" fill="#9ab5b0"/>
<rect x="769.79" y="167.00" width="1.0" height="4.40" fill="#cc4c5e"/>
<rect x="769.29" y="167.60" width="2.0" height="3.15" fill="#cc4c5e"/>
<rect x="772.88" y="151.75" width="1.0" height="20.25" fill="#26866f"/>
<rect x="772.38" y="156.00" width="2.0" height="7.00" fill="#26866f"/>
<rect x="775.96" y="151.75" width="1.0" height="9.25" fill="#cc4c5e"/>
<rect x="775.46" y="153.60" width="2.0" height="4.40" fill="#cc4c5e"/>
<rect x="779.05" y="143.60" width="1.0" height="20.65" fill="#26866f"/>
<rect x="778.55" y="154.25" width="2.0" height="5.75" fill="#26866f"/>
<rect x="782.13" y="149.25" width="1.0" height="8.75" fill="#26866f"/>
<rect x="781.63" y="151.75" width="2.0" height="2.50" fill="#26866f"/>
<rect x="785.22" y="152.40" width="1.0" height="15.00" fill="#cc4c5e"/>
<rect x="784.72" y="153.00" width="2.0" height="13.00" fill="#cc4c5e"/>
<rect x="788.30" y="164.25" width="1.0" height="16.50" fill="#cc4c5e"/>
<rect x="787.80" y="166.00" width="2.0" height="9.75" fill="#cc4c5e"/>
<rect x="791.39" y="168.25" width="1.0" height="7.50" fill="#26866f"/>
<rect x="790.89" y="172.60" width="2.0" height="2.40" fill="#26866f"/>
<rect x="794.47" y="174.00" width="1.0" height="1.75" fill="#cc4c5e"/>
<rect x="793.97" y="174.00" width="2.0" height="1.75" fill="#cc4c5e"/>
<rect x="797.56" y="171.40" width="1.0" height="9.35" fill="#cc4c5e"/>
<rect x="797.06" y="172.60" width="2.0" height="6.90" fill="#cc4c5e"/>
<rect x="800.64" y="176.40" width="1.0" height="4.35" fill="#26866f"/>
<rect x="800.14" y="177.60" width="2.0" height="2.40" fill="#26866f"/>
<rect x="803.73" y="177.60" width="1.0" height="16.30" fill="#cc4c5e"/>
<rect x="803.23" y="178.90" width="2.0" height="8.10" fill="#cc4c5e"/>
<rect x="806.81" y="182.00" width="1.0" height="13.00" fill="#26866f"/>
<rect x="806.31" y="186.40" width="2.0" height="2.50" fill="#26866f"/>
<rect x="809.90" y="184.50" width="1.0" height="9.50" fill="#26866f"/>
<rect x="809.40" y="187.00" width="2.0" height="2.50" fill="#26866f"/>
<rect x="812.98" y="186.40" width="1.0" height="6.85" fill="#cc4c5e"/>
<rect x="812.48" y="187.60" width="2.0" height="3.80" fill="#cc4c5e"/>
<rect x="816.07" y="189.50" width="1.0" height="2.50" fill="#9ab5b0"/>
<rect x="815.57" y="189.50" width="2.0" height="2.50" fill="#9ab5b0"/>
<rect x="819.15" y="188.75" width="1.0" height="3.75" fill="#cc4c5e"/>
<rect x="818.65" y="189.00" width="2.0" height="3.00" fill="#cc4c5e"/>
<rect x="822.24" y="188.75" width="1.0" height="8.25" fill="#26866f"/>
<rect x="821.74" y="190.00" width="2.0" height="2.50" fill="#26866f"/>
<rect x="825.32" y="189.40" width="1.0" height="12.60" fill="#cc4c5e"/>
<rect x="824.82" y="190.00" width="2.0" height="11.25" fill="#cc4c5e"/>
<rect x="828.41" y="202.50" width="1.0" height="27.50" fill="#cc4c5e"/>
<rect x="827.91" y="203.00" width="2.0" height="12.60" fill="#cc4c5e"/>
<rect x="831.49" y="212.50" width="1.0" height="9.40" fill="#cc4c5e"/>
<rect x="830.99" y="214.40" width="2.0" height="6.20" fill="#cc4c5e"/>
<rect x="834.58" y="211.25" width="1.0" height="7.50" fill="#26866f"/>
<rect x="834.08" y="212.00" width="2.0" height="6.00" fill="#26866f"/>
<rect x="837.66" y="208.75" width="1.0" height="6.85" fill="#26866f"/>
<rect x="837.16" y="209.40" width="2.0" height="4.35" fill="#26866f"/>
<rect x="840.75" y="207.50" width="1.0" height="2.50" fill="#9ab5b0"/>
<rect x="840.25" y="208.00" width="2.0" height="1.40" fill="#9ab5b0"/>
<rect x="843.83" y="205.60" width="1.0" height="3.15" fill="#9ab5b0"/>
<rect x="843.33" y="206.00" width="2.0" height="2.00" fill="#9ab5b0"/>
<rect x="846.92" y="230.00" width="1.0" height="17.00" fill="#26866f"/>
<rect x="846.42" y="231.00" width="2.0" height="7.75" fill="#26866f"/>
<rect x="850.00" y="229.40" width="1.0" height="6.60" fill="#cc4c5e"/>
<rect x="849.50" y="231.00" width="2.0" height="4.60" fill="#cc4c5e"/>
<rect x="853.09" y="229.40" width="1.0" height="29.35" fill="#cc4c5e"/>
<rect x="852.59" y="233.75" width="2.0" height="12.50" fill="#cc4c5e"/>
<rect x="856.17" y="241.00" width="1.0" height="9.60" fill="#cc4c5e"/>
<rect x="855.67" y="243.75" width="2.0" height="6.25" fill="#cc4c5e"/>
<rect x="859.26" y="243.75" width="1.0" height="10.00" fill="#cc4c5e"/>
<rect x="858.76" y="248.75" width="2.0" height="4.25" fill="#cc4c5e"/>
<rect x="862.34" y="245.00" width="1.0" height="8.00" fill="#26866f"/>
<rect x="861.84" y="245.60" width="2.0" height="6.90" fill="#26866f"/>
<rect x="865.43" y="241.50" width="1.0" height="2.00" fill="#9ab5b0"/>
<rect x="864.93" y="242.00" width="2.0" height="1.00" fill="#9ab5b0"/>
<rect x="868.51" y="241.00" width="1.0" height="1.50" fill="#9ab5b0"/>
<rect x="868.01" y="241.00" width="2.0" height="1.50" fill="#9ab5b0"/>
<rect x="871.60" y="242.50" width="1.0" height="11.25" fill="#cc4c5e"/>
<rect x="871.10" y="243.75" width="2.0" height="6.85" fill="#cc4c5e"/>
<rect x="874.68" y="248.00" width="1.0" height="2.60" fill="#26866f"/>
<rect x="874.18" y="248.00" width="2.0" height="2.60" fill="#26866f"/>
<rect x="877.77" y="227.00" width="1.0" height="27.40" fill="#26866f"/>
<rect x="877.27" y="234.40" width="2.0" height="18.60" fill="#26866f"/>
<rect x="880.85" y="227.00" width="1.0" height="21.00" fill="#cc4c5e"/>
<rect x="880.35" y="233.75" width="2.0" height="13.25" fill="#cc4c5e"/>
<rect x="883.94" y="241.00" width="1.0" height="6.50" fill="#26866f"/>
<rect x="883.44" y="244.40" width="2.0" height="1.85" fill="#26866f"/>
<rect x="887.02" y="242.50" width="1.0" height="8.10" fill="#cc4c5e"/>
<rect x="886.52" y="243.00" width="2.0" height="5.75" fill="#cc4c5e"/>
<rect x="890.11" y="242.00" width="1.0" height="6.75" fill="#26866f"/>
<rect x="889.61" y="243.00" width="2.0" height="4.50" fill="#26866f"/>
<rect x="893.19" y="232.00" width="1.0" height="11.75" fill="#26866f"/>
<rect x="892.69" y="235.00" width="2.0" height="8.00" fill="#26866f"/>
<rect x="896.28" y="213.00" width="1.0" height="13.25" fill="#26866f"/>
<rect x="895.78" y="215.00" width="2.0" height="7.50" fill="#26866f"/>
<rect x="899.36" y="218.75" width="1.0" height="9.25" fill="#cc4c5e"/>
<rect x="898.86" y="220.00" width="2.0" height="7.50" fill="#cc4c5e"/>
<rect x="902.45" y="222.50" width="1.0" height="23.75" fill="#cc4c5e"/>
<rect x="901.95" y="223.75" width="2.0" height="18.75" fill="#cc4c5e"/>
<rect x="905.53" y="235.60" width="1.0" height="10.65" fill="#cc4c5e"/>
<rect x="905.03" y="240.00" width="2.0" height="6.25" fill="#cc4c5e"/>
<rect x="908.62" y="242.00" width="1.0" height="8.00" fill="#cc4c5e"/>
<rect x="908.12" y="243.75" width="2.0" height="5.65" fill="#cc4c5e"/>
<rect x="911.70" y="244.40" width="1.0" height="4.35" fill="#9ab5b0"/>
<rect x="911.20" y="244.40" width="2.0" height="4.35" fill="#9ab5b0"/>
<rect x="914.79" y="245.00" width="1.0" height="1.25" fill="#9ab5b0"/>
<rect x="914.29" y="245.00" width="2.0" height="1.25" fill="#9ab5b0"/>
<rect x="917.88" y="245.50" width="1.0" height="1.50" fill="#9ab5b0"/>
<rect x="917.38" y="245.50" width="2.0" height="1.50" fill="#9ab5b0"/>
<rect x="920.96" y="248.75" width="1.0" height="17.50" fill="#cc4c5e"/>
<rect x="920.46" y="249.40" width="2.0" height="16.20" fill="#cc4c5e"/>
<rect x="924.04" y="255.60" width="1.0" height="10.40" fill="#26866f"/>
<rect x="923.54" y="256.25" width="2.0" height="8.75" fill="#26866f"/>
<rect x="927.13" y="253.50" width="1.0" height="30.10" fill="#cc4c5e"/>
<rect x="926.63" y="254.00" width="2.0" height="22.60" fill="#cc4c5e"/>
<rect x="930.21" y="272.40" width="1.0" height="11.20" fill="#cc4c5e"/>
<rect x="929.71" y="275.40" width="2.0" height="4.60" fill="#cc4c5e"/>
<rect x="933.30" y="275.40" width="1.0" height="13.00" fill="#cc4c5e"/>
<rect x="932.80" y="277.70" width="2.0" height="4.20" fill="#cc4c5e"/>
<rect x="936.38" y="280.00" width="1.0" height="5.00" fill="#cc4c5e"/>
<rect x="935.88" y="281.30" width="2.0" height="3.50" fill="#cc4c5e"/>
<rect x="939.47" y="273.60" width="1.0" height="9.40" fill="#26866f"/>
<rect x="938.97" y="276.60" width="2.0" height="5.90" fill="#26866f"/>
<rect x="942.55" y="272.40" width="1.0" height="5.90" fill="#26866f"/>
<rect x="942.05" y="273.60" width="2.0" height="3.60" fill="#26866f"/>
<rect x="945.64" y="260.60" width="1.0" height="27.80" fill="#26866f"/>
<rect x="945.14" y="268.90" width="2.0" height="14.10" fill="#26866f"/>
<rect x="948.72" y="264.20" width="1.0" height="12.40" fill="#cc4c5e"/>
<rect x="948.22" y="266.50" width="2.0" height="7.10" fill="#cc4c5e"/>
<rect x="951.81" y="275.40" width="1.0" height="3.60" fill="#9ab5b0"/>
<rect x="951.31" y="276.00" width="2.0" height="2.00" fill="#9ab5b0"/>
</g>
<rect x="7" y="237.20" width="969" height="1.8" fill="#1d7363"/>
<rect x="7" y="257.50" width="969" height="1.8" fill="#1d7363"/>
<rect x="7" y="279.80" width="969" height="1.8" fill="#3158cc"/>
<rect x="7" y="293.00" width="969" height="1.8" fill="#b84c5e"/>
<rect x="7" y="314.80" width="969" height="1.8" fill="#b84c5e"/>
<text x="14.9" y="38" class="lg" textLength="34.2" lengthAdjust="spacingAndGlyphs">NIO Inc.</text><text x="55.9" y="38" class="lg" text-anchor="middle">·</text><text x="61.8" y="38" class="lg" textLength="10.7" lengthAdjust="spacingAndGlyphs">2h</text><text x="77.4" y="38" class="lg" text-anchor="middle">·</text><text x="82.8" y="38" class="lg" textLength="21.9" lengthAdjust="spacingAndGlyphs">NYSE</text><text x="111.7" y="38" class="lg" textLength="26.3" lengthAdjust="spacingAndGlyphs">O<tspan class="lv">3.57</tspan></text><text x="145.3" y="38" class="lg" textLength="26.3" lengthAdjust="spacingAndGlyphs">H<tspan class="lv">3.57</tspan></text><text x="178.2" y="38" class="lg" textLength="24.6" lengthAdjust="spacingAndGlyphs">L<tspan class="lv">3.55</tspan></text><text x="209.8" y="38" class="lg" textLength="24.9" lengthAdjust="spacingAndGlyphs">C<tspan class="lv">3.57</tspan></text><text x="242.2" y="38" class="lg lv" textLength="18.3" lengthAdjust="spacingAndGlyphs">0.00</text><text x="266.3" y="38" class="lg lv" textLength="31.5" lengthAdjust="spacingAndGlyphs">(0.00%)</text>
<text x="983.5" y="55.20" class="ax" textLength="20" lengthAdjust="spacingAndGlyphs">4.40</text><text x="983.5" y="82.28" class="ax" textLength="20" lengthAdjust="spacingAndGlyphs">4.30</text><text x="983.5" y="109.36" class="ax" textLength="20" lengthAdjust="spacingAndGlyphs">4.20</text><text x="983.5" y="136.44" class="ax" textLength="20" lengthAdjust="spacingAndGlyphs">4.10</text><text x="983.5" y="163.52" class="ax" textLength="20" lengthAdjust="spacingAndGlyphs">4.00</text><text x="983.5" y="190.60" class="ax" textLength="20" lengthAdjust="spacingAndGlyphs">3.90</text><text x="983.5" y="217.68" class="ax" textLength="20" lengthAdjust="spacingAndGlyphs">3.80</text><text x="983.5" y="244.76" class="ax" textLength="20" lengthAdjust="spacingAndGlyphs">3.70</text><text x="983.5" y="271.84" class="ax" textLength="20" lengthAdjust="spacingAndGlyphs">3.60</text><text x="983.5" y="298.92" class="ax" textLength="20" lengthAdjust="spacingAndGlyphs">3.50</text><text x="983.5" y="326.00" class="ax" textLength="20" lengthAdjust="spacingAndGlyphs">3.40</text><text x="983.5" y="353.08" class="ax" textLength="20" lengthAdjust="spacingAndGlyphs">3.30</text>
<rect x="977" y="22" width="41" height="27.6" fill="#fff"/>
<rect x="978.5" y="24.5" width="38" height="21.5" rx="4" fill="#fff" stroke="#e6e8ec"/>
<text x="987" y="38.8" class="ax" textLength="17" lengthAdjust="spacingAndGlyphs">USD</text>
<rect x="976" y="231.1" width="32" height="14.50" fill="#0e987f"/><text x="983.8" y="242.15" class="pl" textLength="19" lengthAdjust="spacingAndGlyphs">3.71</text>
<rect x="976" y="251" width="32" height="14.50" fill="#0e987f"/><text x="983.8" y="262.05" class="pl" textLength="19" lengthAdjust="spacingAndGlyphs">3.64</text>
<rect x="976" y="273.4" width="32" height="13.20" fill="#2c5fe8"/><text x="983.8" y="283.80" class="pl" textLength="19" lengthAdjust="spacingAndGlyphs">3.55</text>
<rect x="976" y="286.6" width="32" height="14.90" fill="#ec3749"/><text x="983.8" y="297.85" class="pl" textLength="19" lengthAdjust="spacingAndGlyphs">3.50</text>
<rect x="976" y="308.4" width="32" height="14.50" fill="#ec3749"/><text x="983.8" y="319.45" class="pl" textLength="19" lengthAdjust="spacingAndGlyphs">3.42</text>
<text x="33" y="389.1" class="tl" text-anchor="middle" textLength="4.75" lengthAdjust="spacingAndGlyphs">8</text>
<text x="82.5" y="389.1" class="tl" text-anchor="middle" textLength="9.5" lengthAdjust="spacingAndGlyphs">10</text>
<text x="131.5" y="389.1" class="tl" text-anchor="middle" textLength="9.5" lengthAdjust="spacingAndGlyphs">14</text>
<text x="181" y="389.1" class="tl" text-anchor="middle" textLength="9.5" lengthAdjust="spacingAndGlyphs">16</text>
<text x="230" y="389.1" class="tl" text-anchor="middle" textLength="9.5" lengthAdjust="spacingAndGlyphs">21</text>
<text x="279" y="389.1" class="tl" text-anchor="middle" textLength="9.5" lengthAdjust="spacingAndGlyphs">23</text>
<text x="328.5" y="389.1" class="tl" text-anchor="middle" textLength="9.5" lengthAdjust="spacingAndGlyphs">25</text>
<text x="378" y="389.1" class="tl" text-anchor="middle" textLength="9.5" lengthAdjust="spacingAndGlyphs">29</text>
<text x="427.5" y="389.1" class="tl b" text-anchor="middle" textLength="18.5" lengthAdjust="spacingAndGlyphs">May</text>
<text x="476.5" y="389.1" class="tl" text-anchor="middle" textLength="4.75" lengthAdjust="spacingAndGlyphs">5</text>
<text x="526" y="389.1" class="tl" text-anchor="middle" textLength="4.75" lengthAdjust="spacingAndGlyphs">7</text>
<text x="575.5" y="389.1" class="tl" text-anchor="middle" textLength="4.75" lengthAdjust="spacingAndGlyphs">9</text>
<text x="625" y="389.1" class="tl" text-anchor="middle" textLength="9.5" lengthAdjust="spacingAndGlyphs">13</text>
<text x="674" y="389.1" class="tl" text-anchor="middle" textLength="9.5" lengthAdjust="spacingAndGlyphs">15</text>
<text x="723.5" y="389.1" class="tl" text-anchor="middle" textLength="9.5" lengthAdjust="spacingAndGlyphs">19</text>
<text x="772.5" y="389.1" class="tl" text-anchor="middle" textLength="9.5" lengthAdjust="spacingAndGlyphs">21</text>
<text x="822" y="389.1" class="tl" text-anchor="middle" textLength="9.5" lengthAdjust="spacingAndGlyphs">23</text>
<text x="871.5" y="389.1" class="tl" text-anchor="middle" textLength="9.5" lengthAdjust="spacingAndGlyphs">28</text>
<text x="946" y="389.1" class="tl b" text-anchor="middle" textLength="17.8" lengthAdjust="spacingAndGlyphs">Jun</text>
<g fill="#131722"><path d="M7.6 407.2H13.9V415.2H10.7V410H7.6Z"/><circle cx="16.8" cy="408.6" r="1.6"/><path d="M20.2 407.2H24L20.6 415.2H16.9Z"/></g>
<text x="27.6" y="415.6" class="tv" textLength="59.8" lengthAdjust="spacingAndGlyphs">TradingView</text>
</svg>
</body></html>
